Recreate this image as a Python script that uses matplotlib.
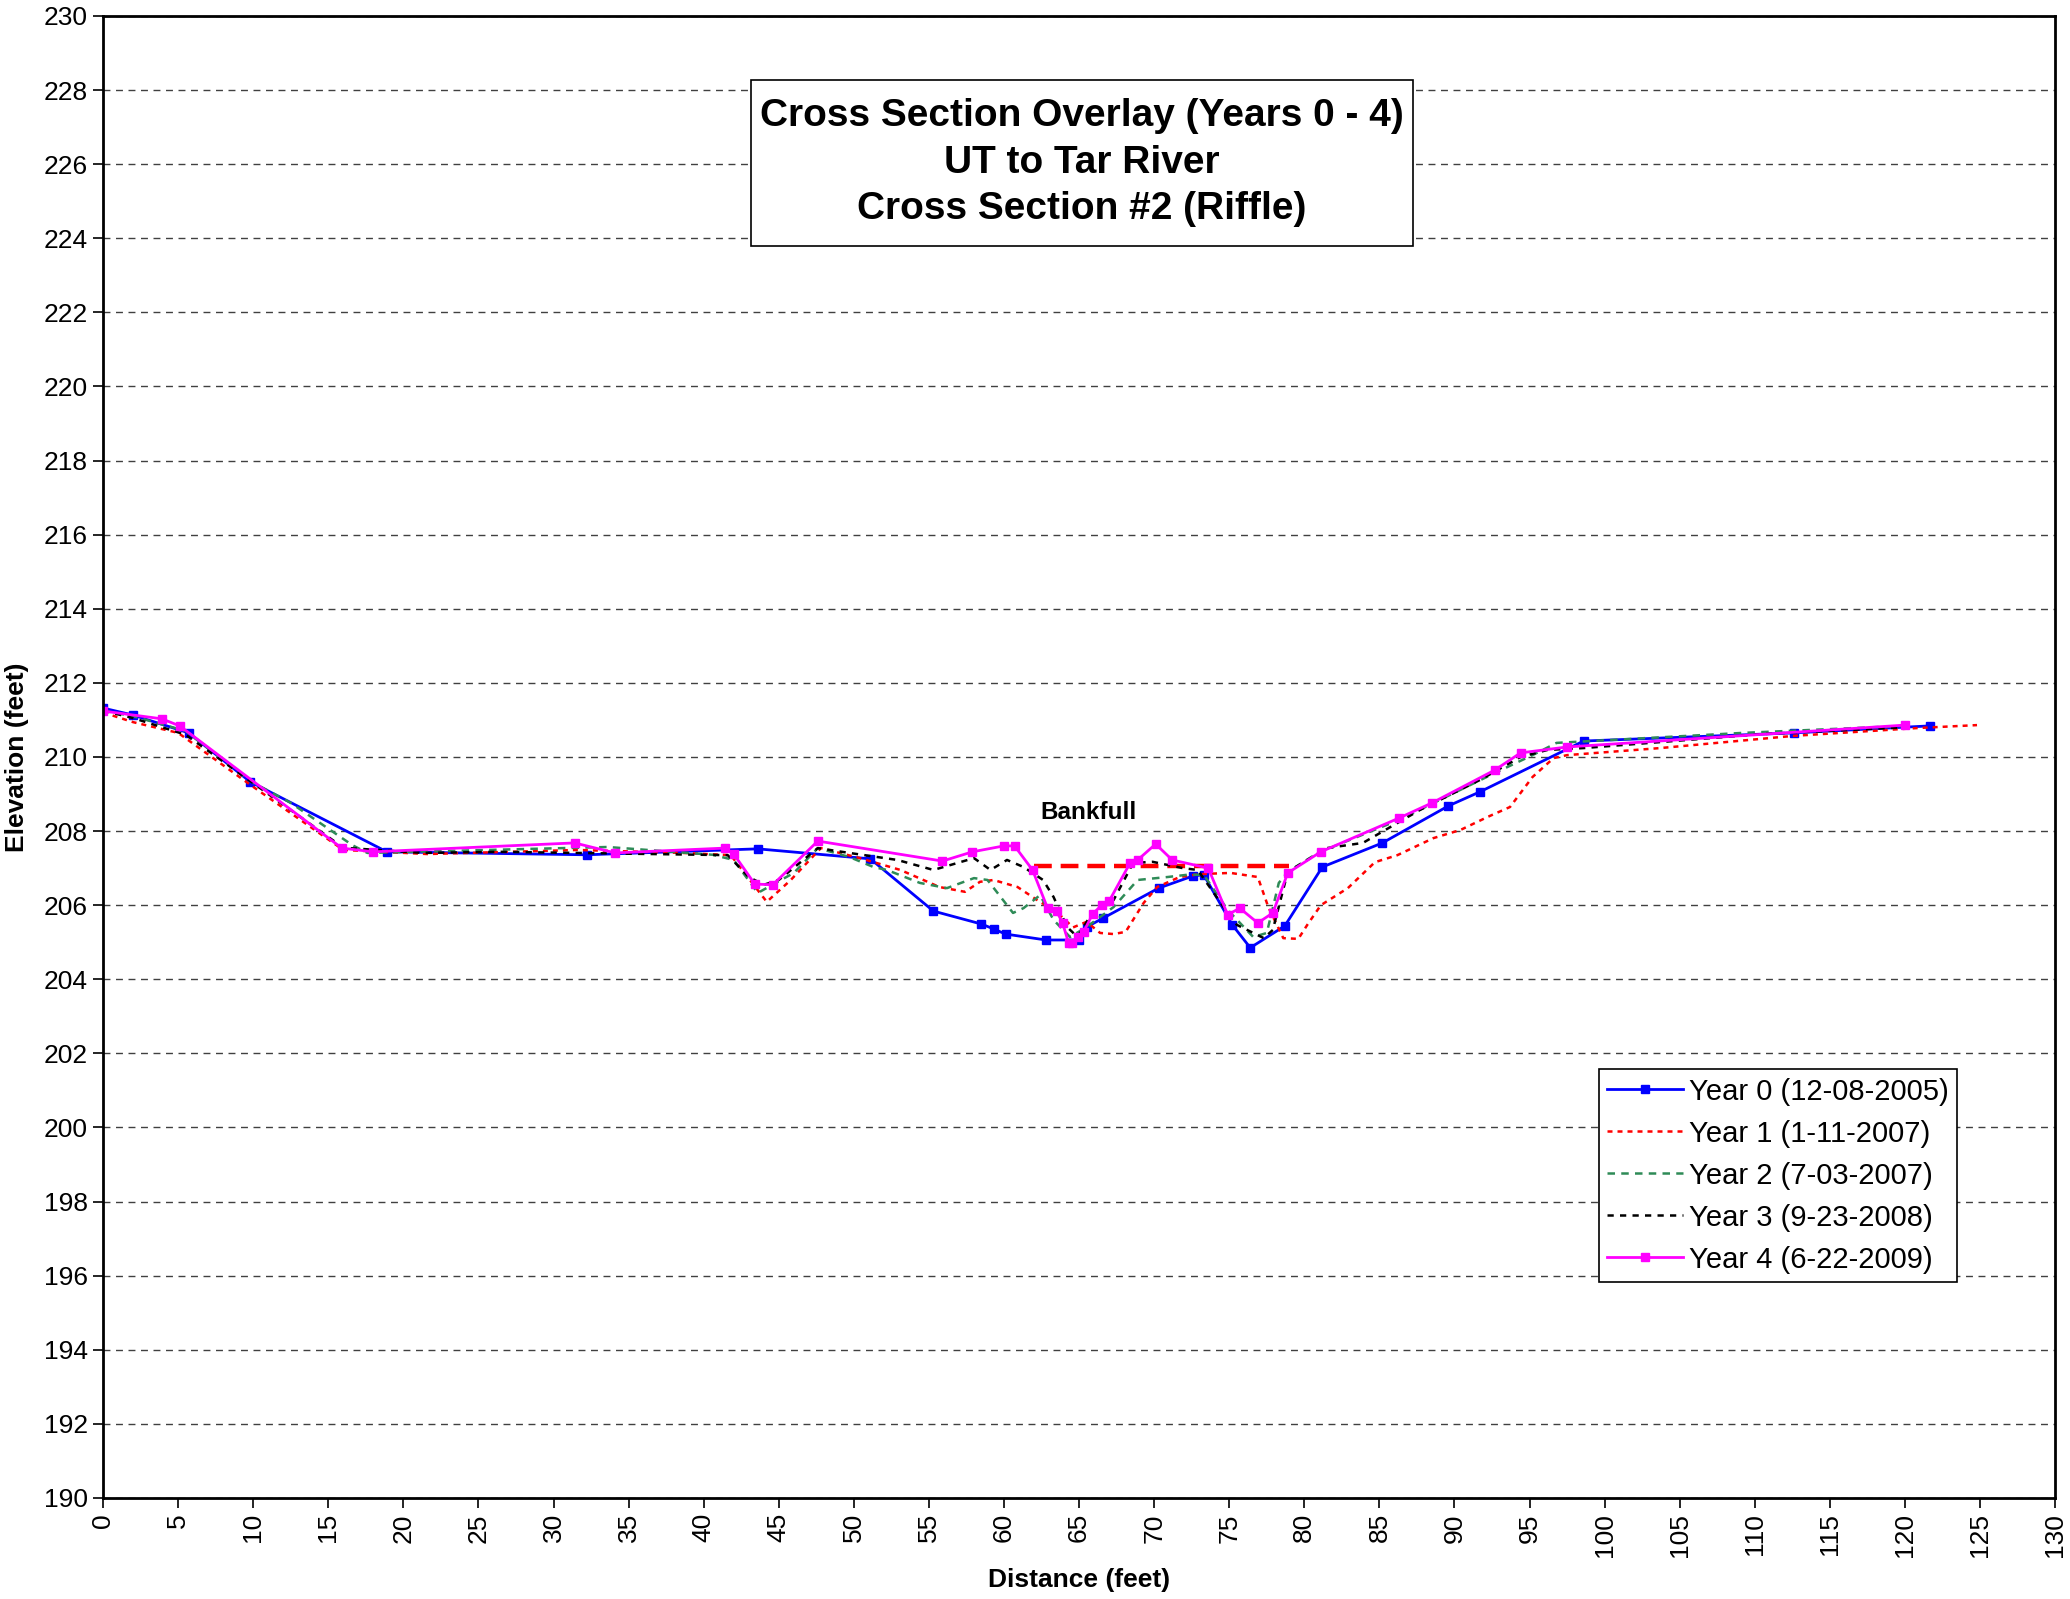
import matplotlib.pyplot as plt
from matplotlib.patches import Rectangle

plt.rcParams['font.family'] = ['Liberation Sans', 'DejaVu Sans']

# Year 0 (12-08-2005)
x0 = [0, 2.0, 5.7, 9.8, 18.9, 32.2, 43.6, 51.1, 55.3, 58.5, 59.3, 60.1, 62.8, 65.0, 65.5, 66.6,
      70.3, 72.6, 73.3, 75.2, 76.4, 78.7, 81.2, 85.2, 89.6, 91.7, 98.6, 112.6, 121.7]
y0 = [211.32, 211.13, 210.65, 209.33, 207.44, 207.36, 207.52, 207.25, 205.84, 205.49, 205.36, 205.22,
      205.06, 205.06, 205.41, 205.65, 206.46, 206.79, 206.82, 205.47, 204.85, 205.44, 207.03, 207.68,
      208.68, 209.06, 210.43, 210.65, 210.84]

# Year 1 (1-11-2007)
x1 = [0, 2.0, 5.0, 9.8, 16.0, 21.6, 31.6, 38.6, 41.8, 44.2, 45.8, 47.8, 50.4, 53.1, 55.7, 57.4, 58.4,
      59.3, 60.9, 62.2, 63.5, 64.6, 65.5, 66.4, 67.3, 68.1, 69.3, 70.2, 71.7, 73.1, 75.1, 76.9, 77.6,
      78.6, 79.6, 80.2, 81.1, 82.9, 84.7, 86.2, 88.6, 90.4, 92.2, 93.7, 95.2, 96.6, 97.5, 103.7, 112.6,
      120.8, 124.8]
y1 = [211.2, 210.94, 210.65, 209.25, 207.49, 207.38, 207.49, 207.41, 207.35, 206.09, 206.68, 207.54,
      207.27, 206.95, 206.49, 206.36, 206.63, 206.68, 206.49, 206.14, 205.82, 205.4, 205.55, 205.25,
      205.22, 205.28, 206.06, 206.49, 206.76, 206.84, 206.87, 206.76, 205.95, 205.11, 205.09, 205.47,
      206.0, 206.46, 207.16, 207.35, 207.81, 208.03, 208.38, 208.65, 209.46, 209.97, 210.05, 210.24,
      210.57, 210.78, 210.86]

# Year 2 (7-03-2007)
x2 = [0, 2.0, 5.5, 9.8, 12.5, 16.6, 17.6, 33.6, 40.6, 42.0, 43.6, 46.0, 47.6, 49.7, 51.3, 52.2, 54.4,
      56.2, 58.0, 58.9, 60.6, 61.3, 62.4, 63.3, 64.4, 65.5, 67.3, 68.9, 70.9, 72.2, 73.3, 74.9, 76.6,
      77.5, 78.3, 78.9, 80.9, 86.3, 92.7, 95.2, 96.8, 109.2, 120.0]
y2 = [211.25, 211.1, 210.7, 209.35, 208.76, 207.62, 207.41, 207.57, 207.36, 207.22, 206.33, 206.87,
      207.54, 207.3, 207.03, 206.95, 206.6, 206.46, 206.73, 206.68, 205.79, 205.92, 206.27, 205.6,
      205.14, 205.41, 205.95, 206.68, 206.76, 206.82, 206.82, 205.87, 205.14, 205.25, 206.6, 206.9,
      207.41, 208.3, 209.57, 210.05, 210.38, 210.65, 210.84]

# Year 3 (9-23-2008)
x3 = [0, 2.0, 5.5, 9.8, 16.0, 21.3, 26.4, 41.6, 43.0, 44.0, 45.0, 47.6, 49.7, 52.9, 55.3, 56.4, 58.0,
      59.1, 60.2, 61.3, 62.6, 63.3, 64.2, 64.9, 65.7, 67.3, 68.6, 69.9, 71.9, 72.9, 74.9, 75.5, 77.3,
      77.9, 78.9, 81.5, 83.9, 87.7, 91.7, 94.4, 96.2, 98.6, 110.6, 120.0]
y3 = [211.25, 211.05, 210.6, 209.35, 207.55, 207.41, 207.44, 207.35, 206.76, 206.55, 206.68, 207.54,
      207.41, 207.22, 206.95, 207.08, 207.27, 206.95, 207.22, 207.03, 206.68, 206.22, 205.41, 205.14,
      205.68, 206.14, 207.14, 207.17, 207.0, 206.95, 205.79, 205.47, 205.11, 205.33, 206.9, 207.54,
      207.68, 208.57, 209.38, 210.0, 210.19, 210.24, 210.62, 210.8]

# Year 4 (6-22-2009)
x4 = [0, 3.9, 5.1, 15.9, 18.0, 31.4, 34.1, 41.4, 42.0, 43.4, 44.6, 47.6, 55.9, 57.9, 60.0, 60.7, 61.9,
      62.9, 63.5, 63.9, 64.3, 64.5, 64.9, 65.3, 65.9, 66.5, 67.0, 68.4, 68.9, 70.1, 71.2, 73.6, 74.9,
      75.7, 76.9, 77.9, 78.9, 81.1, 86.3, 88.5, 92.7, 94.4, 97.5, 120.0]
y4 = [211.24, 211.03, 210.84, 207.54, 207.44, 207.68, 207.41, 207.54, 207.38, 206.57, 206.55, 207.73,
      207.19, 207.44, 207.60, 207.60, 206.95, 205.92, 205.84, 205.52, 204.98, 204.98, 205.14, 205.28,
      205.76, 206.0, 206.11, 207.14, 207.22, 207.65, 207.22, 207.0, 205.74, 205.92, 205.52, 205.79,
      206.87, 207.44, 208.35, 208.76, 209.65, 210.11, 210.27, 210.86]

# Bankfull
xb = [62.0, 79.0]
yb = [207.06, 207.06]

labels = ['Year 0 (12-08-2005)', 'Year 1 (1-11-2007)', 'Year 2 (7-03-2007)',
          'Year 3 (9-23-2008)', 'Year 4 (6-22-2009)']

#--------------------------------------

fig = plt.figure(figsize=(20.7, 15.99), dpi=100)
ax = fig.add_axes([0.0498, 0.0632, 0.943, 0.9268])

ax.plot(x0, y0, color='#0000ff', linestyle='-', linewidth=2, marker='s', markersize=5.5, label=labels[0])
ax.plot(x1, y1, color='#ff0000', linestyle=(0, (2, 2)), linewidth=1.8, label=labels[1])
ax.plot(x2, y2, color='#2e8b57', linestyle=(0, (3, 2.5)), linewidth=1.8, label=labels[2])
ax.plot(x3, y3, color='black', linestyle=(0, (2.5, 2.5)), linewidth=1.8, label=labels[3])
ax.plot(x4, y4, color='#ff00ff', linestyle='-', linewidth=2, marker='s', markersize=5.5, label=labels[4])
ax.plot(xb, yb, color='#ff0000', linestyle=(0, (4, 2)), linewidth=3.2, zorder=1.9)

ax.text(65.6, 208.5, 'Bankfull', fontsize=17.5, fontweight='bold', ha='center', va='center')

ax.set_xlim(0, 130)
ax.set_ylim(190, 230)
ax.set_xticks(range(0, 131, 5))
ax.set_yticks(range(190, 231, 2))
ax.tick_params(axis='x', labelrotation=90, labelsize=19, length=7, width=1.2, pad=4)
ax.tick_params(axis='y', labelsize=19, length=7, width=1.2, pad=4)
ax.yaxis.grid(True, color='#404040', linestyle=(0, (5, 4)), linewidth=1)
ax.set_axisbelow(True)
for s in ax.spines.values():
    s.set_linewidth(2)

ax.set_xlabel('Distance (feet)', fontsize=19, fontweight='bold')
ax.set_ylabel('Elevation (feet)', fontsize=19, fontweight='bold')
ax.xaxis.set_label_coords(0.5, -0.047)
ax.yaxis.set_label_coords(-0.038, 0.5)

ax.add_patch(Rectangle((0.332, 0.845), 0.339, 0.112, transform=ax.transAxes, facecolor='white',
                       edgecolor='black', linewidth=1.2, zorder=3))
ax.text(0.5015, 0.901, 'Cross Section Overlay (Years 0 - 4)\nUT to Tar River\nCross Section #2 (Riffle)',
        transform=ax.transAxes, fontsize=28, fontweight='bold', ha='center', va='center',
        linespacing=1.38, zorder=4)

leg = ax.legend(loc='upper right', bbox_to_anchor=(0.950, 0.2895), fontsize=21, frameon=True,
                fancybox=False, edgecolor='black', framealpha=1, handlelength=2.6,
                labelspacing=0.48, borderpad=0.3, handletextpad=0.2, borderaxespad=0)
leg.get_frame().set_linewidth(1.2)
for h in leg.legend_handles:
    h.set_markersize(5.5)

fig.savefig('out.png', dpi=100)
